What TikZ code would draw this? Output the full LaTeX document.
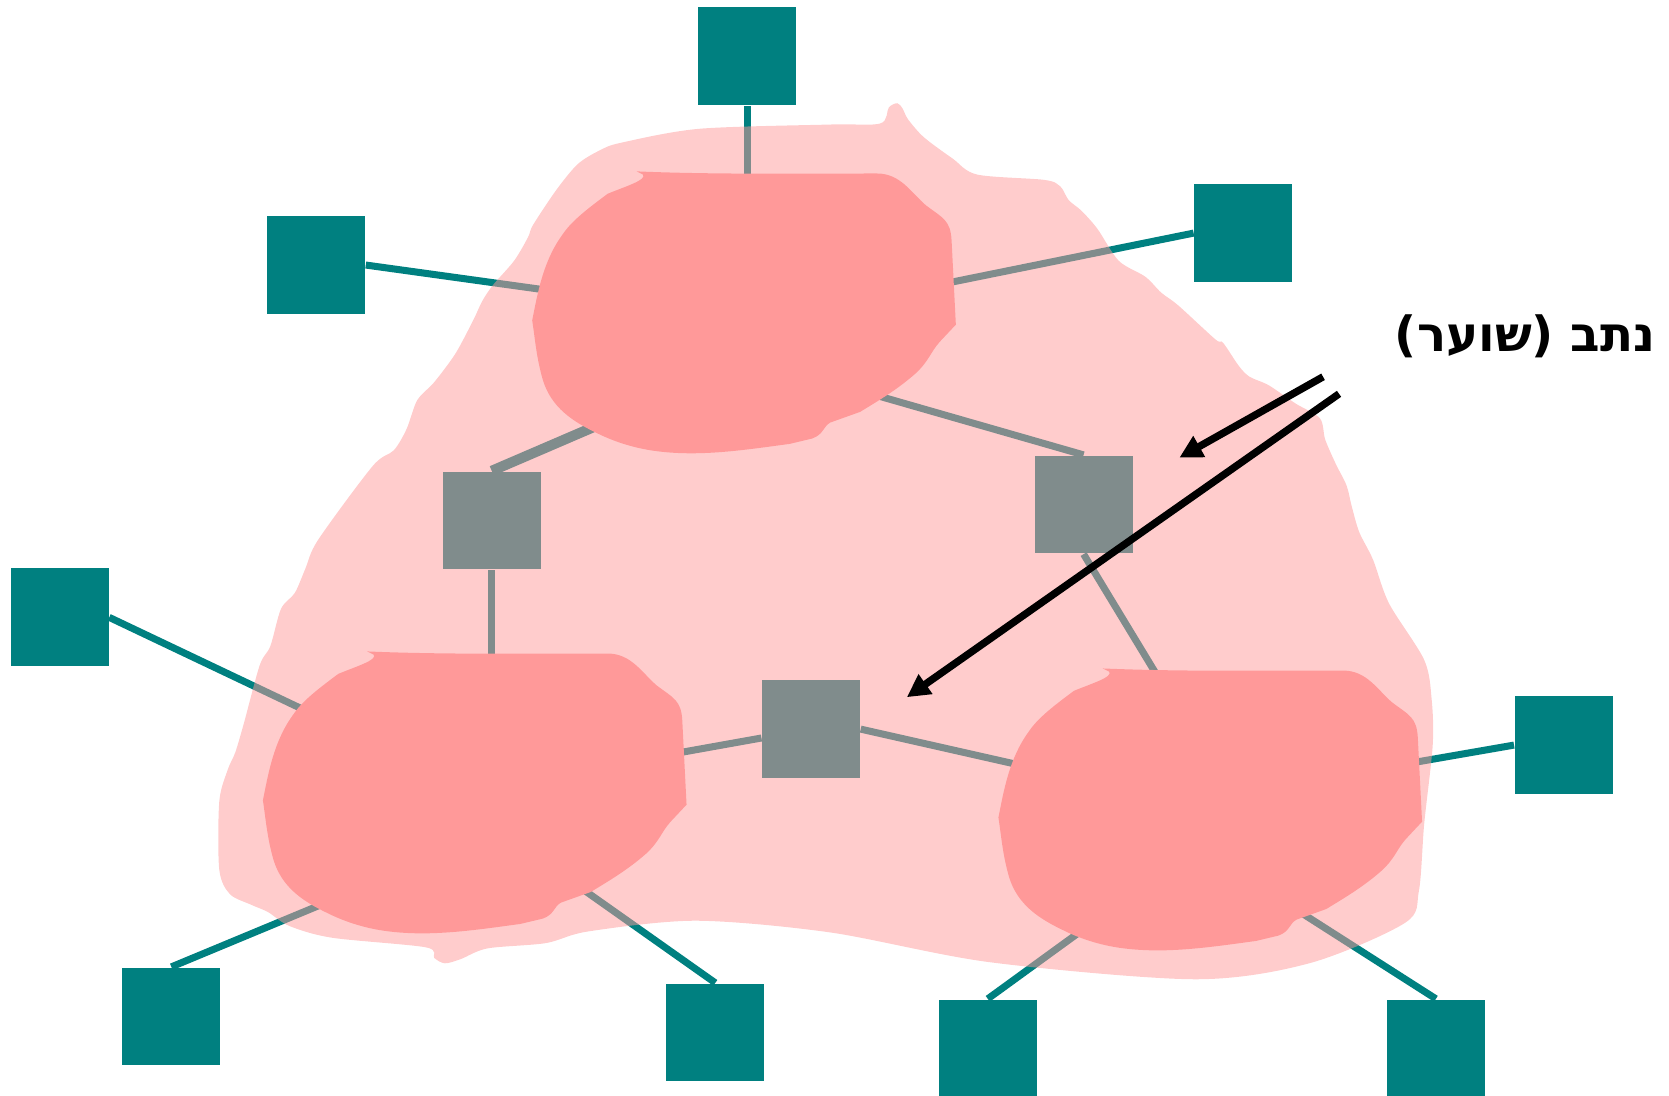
\documentclass[tikz,border=0pt]{standalone}
\usepackage{fontspec}
\newfontfamily\hebrewfont[Script=Hebrew]{DejaVu Sans}
\TeXXeTstate=1
\usetikzlibrary{arrows.meta}
\definecolor{hostcol}{HTML}{008080}
\definecolor{netcol}{HTML}{FF9999}

\begin{document}
\begin{tikzpicture}[ x = 0.010644cm
                   , y = -0.010644cm
                   , >={Triangle[width=6.5pt, length=6.5pt]}
                   , host/.style = { rectangle
                                   , fill = hostcol
                                   , inner sep = 0pt
                                   , minimum size = 0.979cm }
                   , link/.style = { draw = hostcol, line width = 2pt }
                   , trunk/.style = { link, line width = 2.9pt }
                   , pointer/.style = { ->, line width = 2.1pt }
                   , net/.pic = {
                       \fill[netcol] (0,0)
                         .. controls (70,3) and (150,2) .. (226,2)
                         .. controls (248,2) and (258,20) .. (272,32)
                         .. controls (288,44) and (295,46) .. (296,65)
                         -- (300,144) -- (285,160)
                         .. controls (276,170) and (275,178) .. (262,190)
                         .. controls (245,205) and (228,215) .. (210,226)
                         -- (182,236)
                         .. controls (175,240) and (176,247) .. (165,251)
                         -- (144,256)
                         .. controls (100,262) and (60,268) .. (20,263)
                         .. controls (-5,260) and (-25,252) .. (-37,246)
                         .. controls (-60,235) and (-80,222) .. (-88,196)
                         .. controls (-94,175) and (-95,160) .. (-98,140)
                         .. controls (-93,115) and (-88,85) .. (-70,60)
                         .. controls (-62,48) and (-50,38) .. (-27,21)
                         .. controls (-10,14) and (10,8) .. (6,3)
                         -- cycle; }
                   ]

  \useasboundingbox (0,0) rectangle (1568,1029);

  % hosts
  \node (hostN)   [host] at (702,53)  {};
  \node (hostNW)  [host] at (297,249) {};
  \node (hostNE)  [host] at (1168,219) {};
  \node (hostW)   [host] at (56,580)  {};
  \node (hostE)   [host] at (1469,700) {};
  \node (hostSW)  [host] at (161,955) {};
  \node (hostS)   [host] at (672,970) {};
  \node (hostSE1) [host] at (928,985) {};
  \node (hostSE2) [host] at (1349,985) {};

  % gateways (same boxes, under the cloud)
  \node (gwL) [host] at (462,489) {};
  \node (gwR) [host] at (1018,474) {};
  \node (gwM) [host] at (762,685) {};

  % ends of the links, inside the networks
  \coordinate (netA-n)  at (702,200);
  \coordinate (netA-w)  at (560,279);
  \coordinate (netA-e)  at (850,274);
  \coordinate (netA-sw) at (600,383);
  \coordinate (netA-se) at (780,359);
  \coordinate (netB-n)  at (462,650);
  \coordinate (netB-w)  at (330,688);
  \coordinate (netB-e)  at (600,714);
  \coordinate (netB-sw) at (340,834);
  \coordinate (netB-se) at (520,816);
  \coordinate (netC-n)  at (1100,656);
  \coordinate (netC-w)  at (990,726);
  \coordinate (netC-e)  at (1290,723);
  \coordinate (netC-sw) at (1040,857);
  \coordinate (netC-se) at (1195,840);

  \draw[link] (hostN.south) -- (netA-n);
  \draw[link] (hostNW.east) -- (netA-w);
  \draw[link] (hostNE.west) -- (netA-e);
  \draw[trunk] (gwL.north) -- (netA-sw);
  \draw[link] (gwR.north) -- (netA-se);
  \draw[link] (gwL.south) -- (netB-n);
  \draw[link] (hostW.east) -- (netB-w);
  \draw[link] (gwM) -- (netB-e);
  \draw[link] (hostSW.north) -- (netB-sw);
  \draw[link] (hostS.north) -- (netB-se);
  \draw[link] (gwR.south) -- (netC-n);
  \draw[link] (gwM.east) -- (netC-w);
  \draw[link] (hostE.west) -- (netC-e);
  \draw[link] (hostSE1.north) -- (netC-sw);
  \draw[link] (hostSE2.north) -- (netC-se);

  % the whole network
  \fill[netcol, fill opacity = 0.5] plot[smooth cycle, tension = 0.5] coordinates {
    (584,134) (657,121) (780,117) (827,116) (835,101) (843,97) (848,102)
    (853,112) (868,129) (895,149) (918,164) (981,169) (996,175) (1004,188)
    (1016,198) (1031,215) (1051,245) (1076,260) (1091,275) (1107,287)
    (1142,319) (1149,322) (1164,344) (1174,354) (1192,362) (1217,379)
    (1240,393) (1245,413) (1255,436) (1265,456) (1270,476) (1277,500)
    (1290,526) (1305,567) (1338,620) (1345,657) (1346,700) (1338,774)
    (1333,837) (1320,867) (1230,905) (1122,920) (930,904) (780,876)
    (654,865) (553,875) (513,886) (458,891) (433,901) (418,905) (408,900)
    (400,890) (312,881) (272,870) (252,857) (236,850) (216,840) (206,817)
    (206,753) (214,723) (221,707) (229,680) (244,625) (254,607) (264,572)
    (277,557) (287,534) (299,507) (350,438) (370,423) (382,403) (392,376)
    (408,359) (428,332) (445,300) (453,283) (463,268) (483,245) (496,223)
    (501,211) (523,178) (543,154) (564,141)};

  \pic (netA) at (598,161) {net};
  \pic (netB) at (345,612) {net};
  \pic (netC) at (1036,628) {net};

  % label and pointers
  \node (gwlabel) [anchor = east, inner sep = 0pt, font = \hebrewfont\bfseries\fontsize{13.8}{16}\selectfont]
    at (1556,316) {\beginR נתב (שוער)\endR};

  \coordinate (ptrA-from) at (1243,354);
  \coordinate (ptrA-to)   at (1108,430);
  \coordinate (ptrB-from) at (1258,370);
  \coordinate (ptrB-to)   at (852,655);

  \draw[pointer] (ptrA-from) -- (ptrA-to);
  \draw[pointer] (ptrB-from) -- (ptrB-to);

\end{tikzpicture}
\end{document}
